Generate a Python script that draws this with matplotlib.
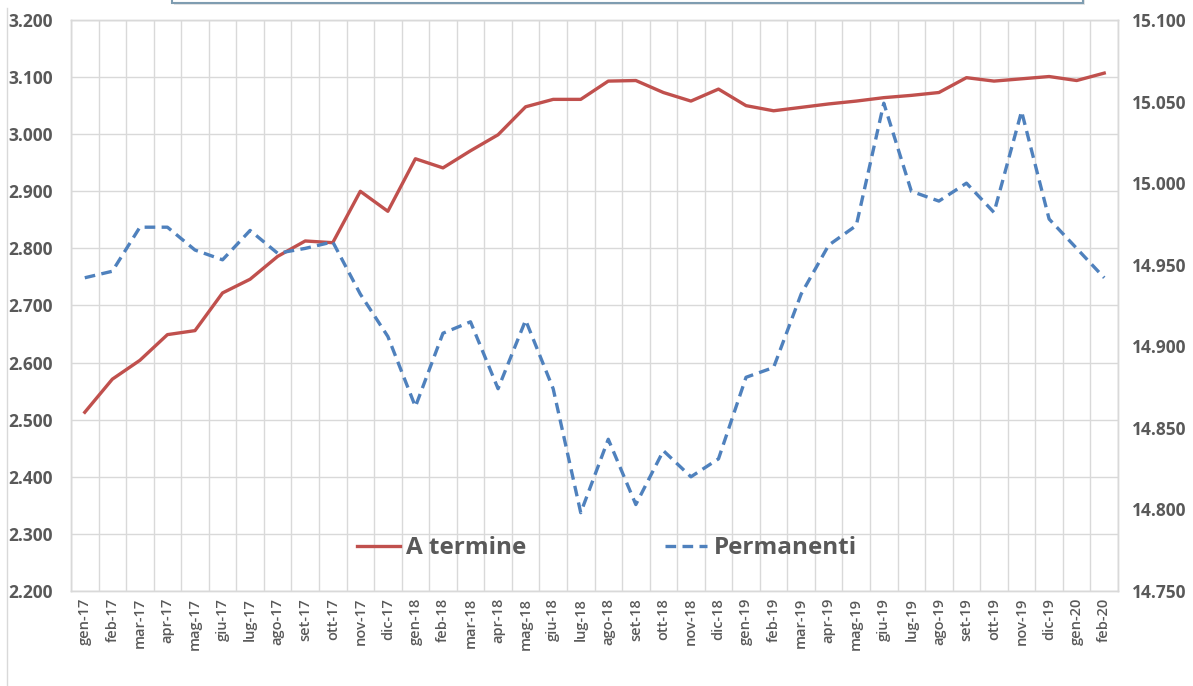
import matplotlib
matplotlib.use("Agg")
import matplotlib.pyplot as plt
from matplotlib.patches import Rectangle
from matplotlib.lines import Line2D
from matplotlib.ticker import FuncFormatter, MultipleLocator

plt.rcParams['font.family'] = ['Open Sans', 'DejaVu Sans']

mesi = ["gen-17", "feb-17", "mar-17", "apr-17", "mag-17", "giu-17", "lug-17", "ago-17",
        "set-17", "ott-17", "nov-17", "dic-17", "gen-18", "feb-18", "mar-18", "apr-18",
        "mag-18", "giu-18", "lug-18", "ago-18", "set-18", "ott-18", "nov-18", "dic-18",
        "gen-19", "feb-19", "mar-19", "apr-19", "mag-19", "giu-19", "lug-19", "ago-19",
        "set-19", "ott-19", "nov-19", "dic-19", "gen-20", "feb-20"]

# migliaia, asse sinistro
a_termine = [2513, 2571, 2604, 2649, 2656, 2722, 2746, 2786, 2813, 2810, 2900, 2865,
             2957, 2941, 2971, 2999, 3048, 3061, 3061, 3093, 3094, 3073, 3058, 3079,
             3050, 3041, 3047, 3053, 3058, 3064, 3068, 3073, 3099, 3093, 3097, 3101,
             3094, 3107]

# migliaia, asse destro
permanenti = [14942, 14946, 14973, 14973, 14959, 14953, 14971, 14957, 14960, 14964,
              14932, 14906, 14863, 14908, 14915, 14874, 14916, 14874, 14798, 14843,
              14803, 14836, 14820, 14831, 14881, 14887, 14932, 14962, 14974, 15049,
              14995, 14989, 15000, 14982, 15044, 14978, 14960, 14942]

W, H = 1193, 686
fig = plt.figure(figsize=(W / 100, H / 100), dpi=100)
ax = fig.add_axes([71 / W, 1 - 591 / H, (1118 - 71) / W, (591 - 20) / H])
ax2 = ax.twinx()

grid_c = "#D9D9D9"
txt_c = "#595959"
x = list(range(len(mesi)))

ax.plot(x, a_termine, color="#C0504D", lw=2.4, label="A termine", zorder=3)
ax2.plot(x, permanenti, color="#4F81BD", lw=2.4, ls=(0, (3.2, 1.9)), label="Permanenti", zorder=3)

ax.set_xlim(-0.5, len(mesi) - 0.5)
ax.set_ylim(2200, 3200)
ax2.set_ylim(14750, 15100)
ax.yaxis.set_major_locator(MultipleLocator(100))
ax2.yaxis.set_major_locator(MultipleLocator(50))

fmt = FuncFormatter(lambda v, p: f"{v / 1000:.3f}")
ax.yaxis.set_major_formatter(fmt)
ax2.yaxis.set_major_formatter(fmt)

ax.set_xticks(x)
ax.set_xticklabels(mesi, rotation=90, fontsize=10.5, color=txt_c, fontweight="semibold")
ax.set_xticks([i - 0.5 for i in range(len(mesi) + 1)], minor=True)
ax.grid(True, which="minor", axis="x", color=grid_c, lw=1)
ax.grid(True, which="major", axis="y", color=grid_c, lw=1)
ax.set_axisbelow(True)

ax.tick_params(axis="x", which="both", length=0, pad=5)
ax.tick_params(axis="y", length=0, pad=13, labelsize=12.5, labelcolor=txt_c)
ax2.tick_params(axis="y", length=0, pad=10, labelsize=12.5, labelcolor=txt_c)
for t in ax.get_yticklabels() + ax2.get_yticklabels():
    t.set_fontweight("bold")

for a in (ax, ax2):
    for s in a.spines.values():
        s.set_color(grid_c)
        s.set_linewidth(1)

h1, l1 = ax.get_legend_handles_labels()
h2, l2 = ax2.get_legend_handles_labels()
leg = ax2.legend(h1 + h2, l1 + l2, loc="center", bbox_to_anchor=(0.512, 0.075), ncol=2,
                 frameon=False, handlelength=1.75, handletextpad=0.25, columnspacing=5.7,
                 prop={"weight": "bold", "size": 17.5})
for t in leg.get_texts():
    t.set_color(txt_c)

# bordo del riquadro del titolo, tagliato in alto
fig.add_artist(Rectangle((174 / W, 1 - 5 / H), 911 / W, 0.05, transform=fig.transFigure,
                         facecolor="#E6E6E6", edgecolor="none"))
fig.add_artist(Rectangle((172 / W, 1 - 3 / H), 911 / W, 0.05, transform=fig.transFigure,
                         facecolor="white", edgecolor="#7F9DB1", lw=1.5))
# bordo sinistro
fig.add_artist(Line2D([7 / W, 7 / W], [0, 1 - 8 / H], transform=fig.transFigure,
                      color=grid_c, lw=1))

fig.savefig("out.png", dpi=100)
